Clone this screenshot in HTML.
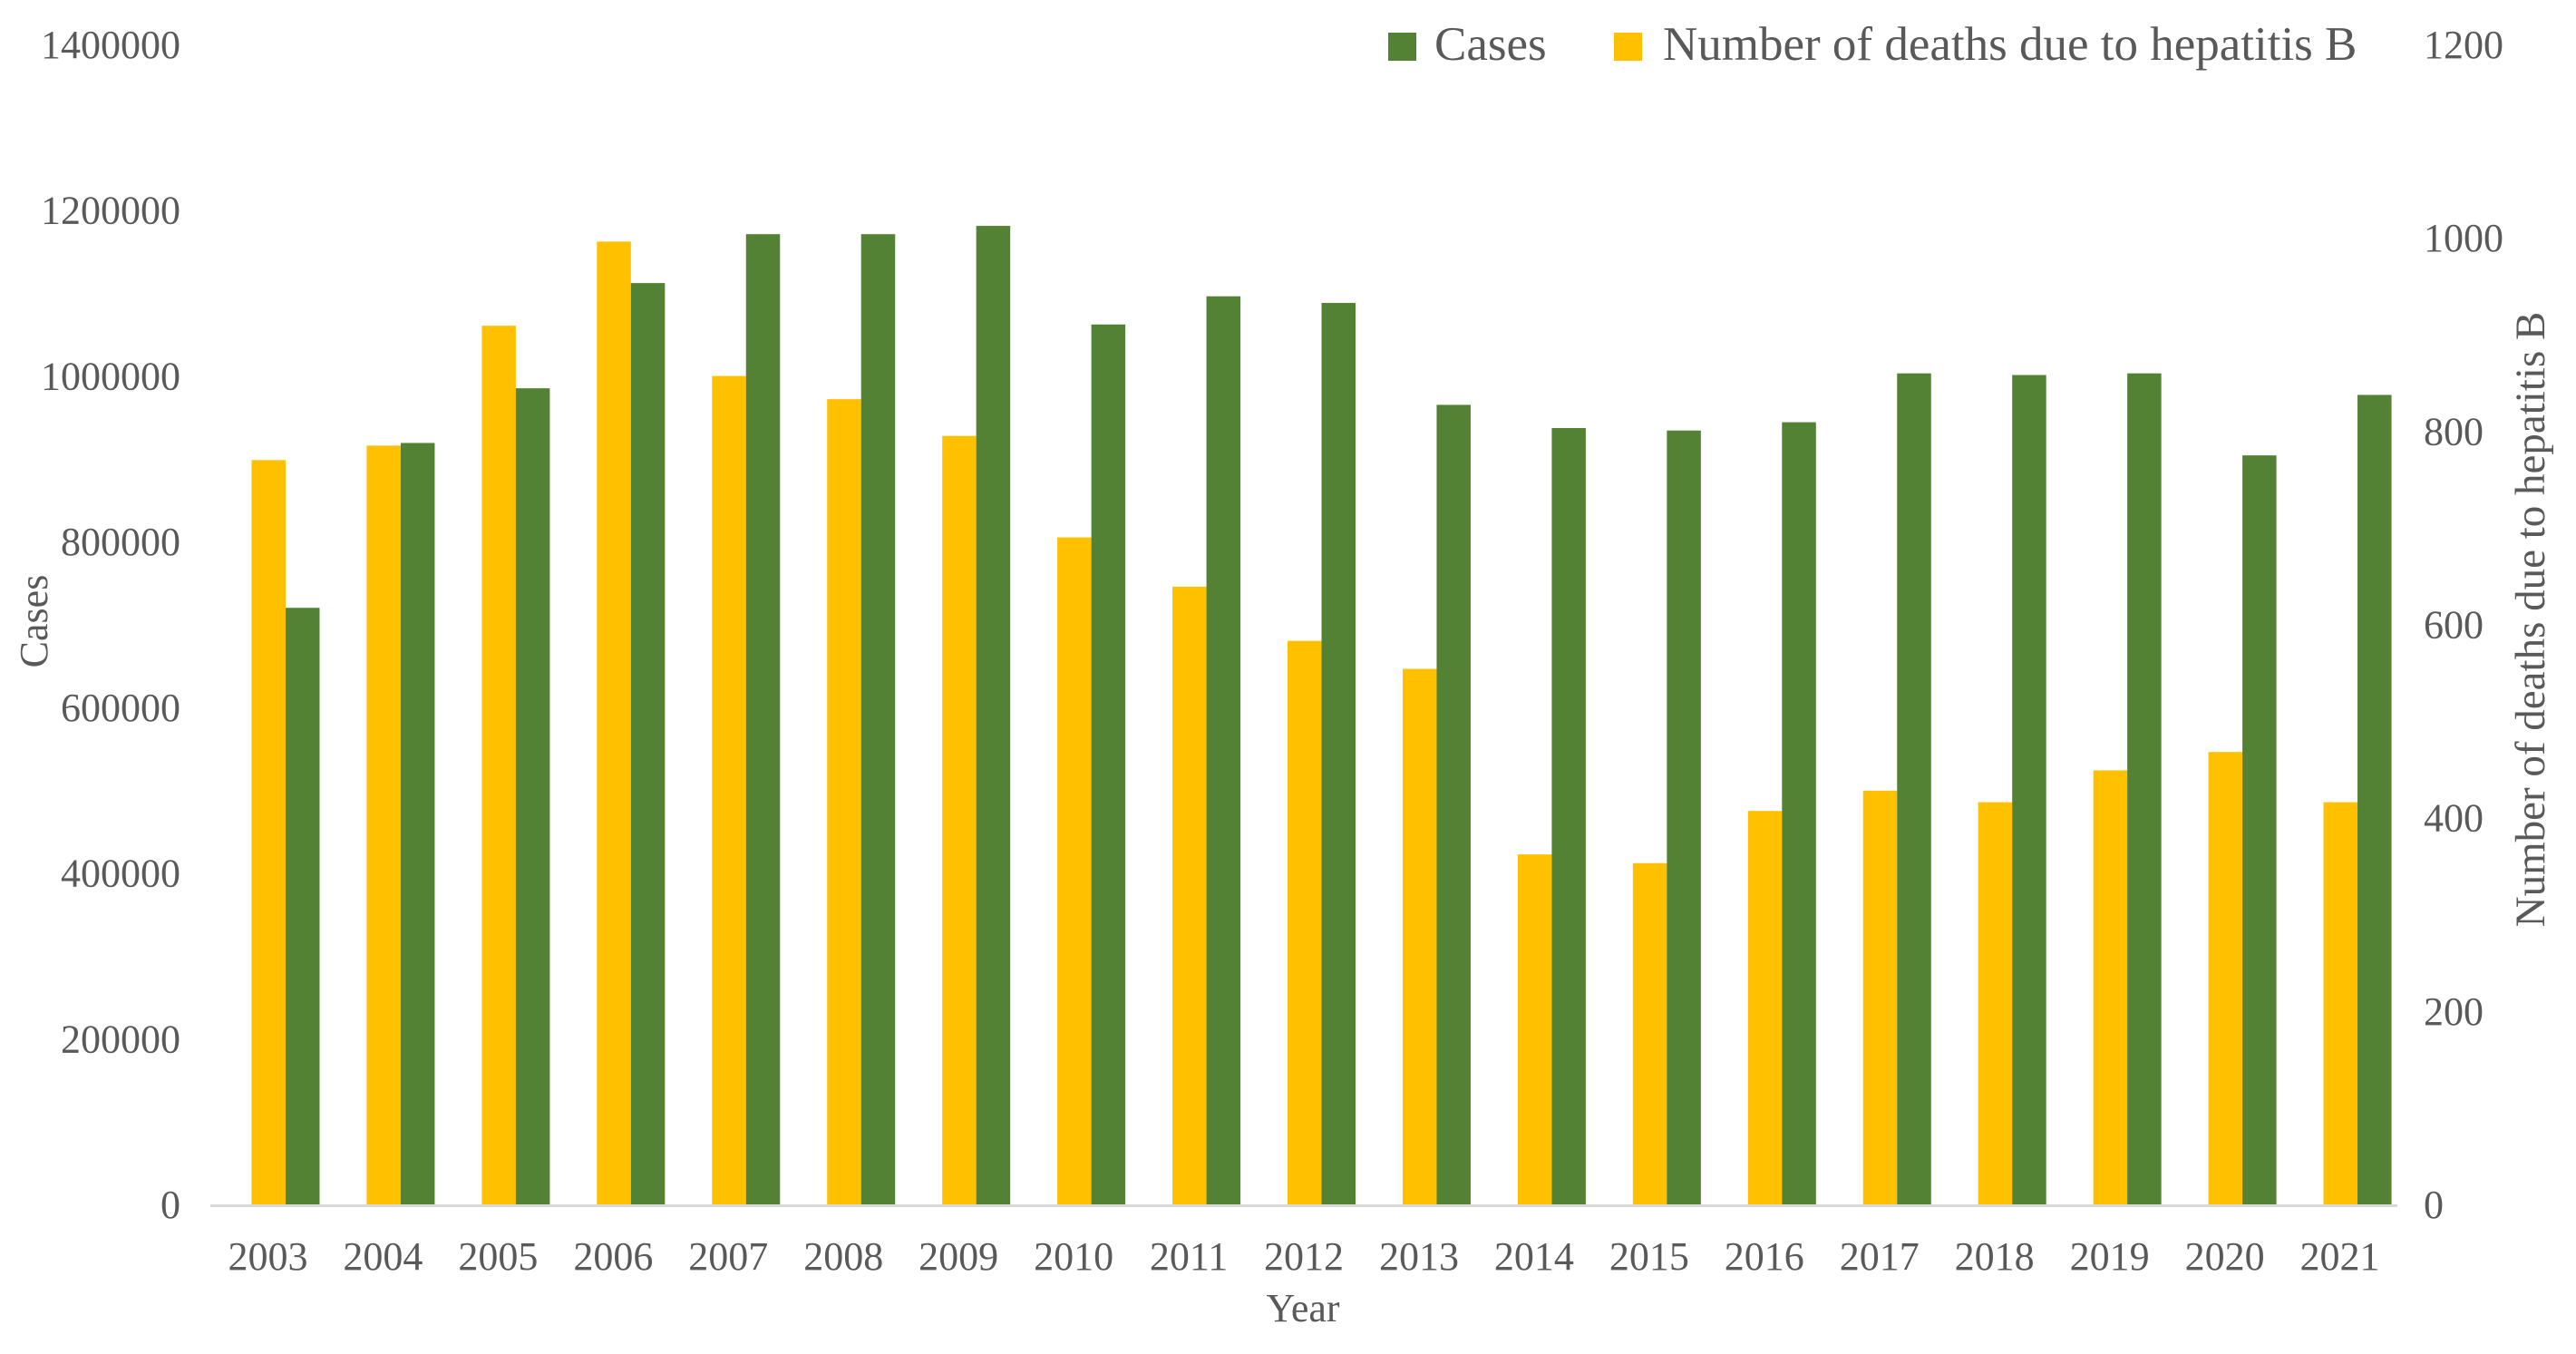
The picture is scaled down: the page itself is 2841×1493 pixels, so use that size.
<!DOCTYPE html>
<html><head><meta charset="utf-8"><style>
html,body{margin:0;padding:0;background:#fff;}
svg text{font-family:"Liberation Serif",serif;fill:#595959;}
</style></head><body>
<svg id="chart" width="2841" height="1488" viewBox="0 0 2841 1488" xmlns="http://www.w3.org/2000/svg">
<g id="legend">
<rect x="1531" y="36" width="31" height="31" fill="#548235"/>
<text x="1582" y="66" font-size="53">Cases</text>
<rect x="1780" y="36" width="31" height="31" fill="#FFC000"/>
<text x="1834" y="66" font-size="53">Number of deaths due to hepatitis B</text>
</g>
<text transform="translate(52,685) rotate(-90)" text-anchor="middle" font-size="44">Cases</text>
<text transform="translate(2806,683) rotate(-90)" text-anchor="middle" font-size="47">Number of deaths due to hepatitis B</text>
<text x="1437" y="1457" text-anchor="middle" font-size="44">Year</text>
</svg>
<script>
const years = ["2003","2004","2005","2006","2007","2008","2009","2010","2011","2012","2013","2014","2015","2016","2017","2018","2019","2020","2021"];
const cases = [720000,919000,985000,1112000,1171000,1171000,1181000,1062000,1096000,1088000,965000,937000,934000,944000,1003000,1001000,1003000,904000,977000];
const deaths = [770,785,909,996,857,833,795,690,639,583,554,362,353,407,428,416,449,468,416];
const leftTicks = [0,200000,400000,600000,800000,1000000,1200000,1400000];
const rightTicks = [0,200,400,600,800,1000,1200];

const svg = document.getElementById('chart');
const NS = 'http://www.w3.org/2000/svg';
const X0 = 232, X1 = 2644, YB = 1328, YT = 49;
const band = (X1 - X0) / years.length;
const yL = v => YB - v / 1400000 * (YB - YT);
const yR = v => YB - v / 1200 * (YB - YT);
const xc = i => X0 + band * (i + 0.5);
const BW = 37.5;

function mk(tag, attrs){ const e=document.createElementNS(NS,tag); for(const k in attrs) e.setAttribute(k,attrs[k]); svg.appendChild(e); return e; }

leftTicks.forEach(t=>{
  const e = mk('text',{x:199,y:yL(t)+15,'text-anchor':'end','font-size':'44'});
  e.textContent = t;
  
  
});
rightTicks.forEach(t=>{
  const e = mk('text',{x:2673,y:yR(t)+15,'text-anchor':'start','font-size':'44'});
  e.textContent = t;
  
  
});
years.forEach((yr,i)=>{
  const c = xc(i);
  const d = mk('rect',{x:c-18,y:yR(deaths[i]),width:BW,height:YB-yR(deaths[i]),fill:'#FFC000'});
  
  
  const g = mk('rect',{x:c-18+BW,y:yL(cases[i]),width:BW,height:YB-yL(cases[i]),fill:'#548235'});
  
  
  const t = mk('text',{x:c,y:1400,'text-anchor':'middle','font-size':'44'});
  t.textContent = yr;
  
  
});
const ax = mk('line',{x1:X0,y1:YB+1.5,x2:X1,y2:YB+1.5,stroke:'#d9d9d9','stroke-width':3});


</script>
</body></html>
